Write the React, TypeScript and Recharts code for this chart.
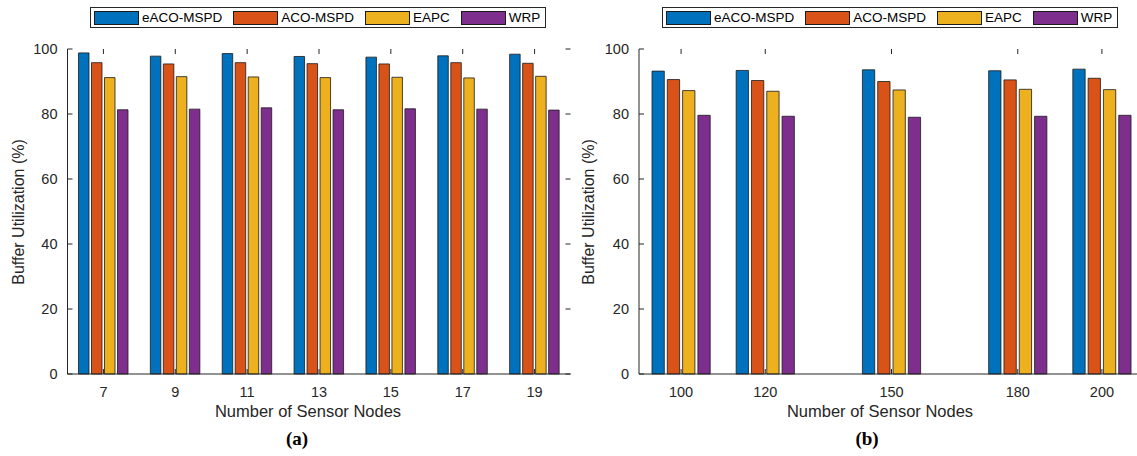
import React from 'react';
import { BarChart, Bar, XAxis, YAxis } from 'recharts';

const seriesNames = ['eACO-MSPD', 'ACO-MSPD', 'EAPC', 'WRP'];
const seriesKeys = ['eaco', 'aco', 'eapc', 'wrp'];
const colors = ['#0072BD', '#D95319', '#EDB120', '#7E2F8E'];

const nodesA = [7, 9, 11, 13, 15, 17, 19];
const eacoA = [98.8, 97.8, 98.6, 97.7, 97.5, 97.9, 98.4];
const acoA = [95.8, 95.4, 95.8, 95.5, 95.4, 95.8, 95.6];
const eapcA = [91.2, 91.5, 91.4, 91.2, 91.3, 91.1, 91.6];
const wrpA = [81.3, 81.5, 81.9, 81.3, 81.6, 81.5, 81.2];

const nodesB = [100, 120, 150, 180, 200];
const eacoB = [93.2, 93.4, 93.6, 93.3, 93.8];
const acoB = [90.6, 90.3, 90.0, 90.5, 91.0];
const eapcB = [87.2, 87.0, 87.4, 87.6, 87.5];
const wrpB = [79.6, 79.3, 79.0, 79.3, 79.6];

const yTicks = [0, 20, 40, 60, 80, 100];
const xTicksB = [100, 120, 150, 180, 200];

const dataA = nodesA.map((x, i) => ({ x, eaco: eacoA[i], aco: acoA[i], eapc: eapcA[i], wrp: wrpA[i] }));
const dataB = nodesB.map((x, i) => ({ x, eaco: eacoB[i], aco: acoB[i], eapc: eapcB[i], wrp: wrpB[i] }));

const FONT = '"Liberation Sans", Arial, Helvetica, sans-serif';
const AX = '#262626';
const PLOT_TOP = 49;
const PLOT_BOTTOM = 374;
const H = 456;

const makeXTick = () => (props: any) => {
  const { x, y, payload } = props;
  return (
    <g>
      <line x1={x} x2={x} y1={y} y2={y - 5} stroke={AX} strokeWidth={1} />
      <line x1={x} x2={x} y1={PLOT_TOP} y2={PLOT_TOP + 5} stroke={AX} strokeWidth={1} />
      <text x={x} y={y + 23} textAnchor="middle" fontSize={14.5} fontFamily={FONT} fill={AX}>
        {payload.value}
      </text>
    </g>
  );
};

const makeYTick = (plotRight: number) => (props: any) => {
  const { x, y, payload } = props;
  return (
    <g>
      <line x1={x} x2={x + 5} y1={y} y2={y} stroke={AX} strokeWidth={1} />
      <line x1={plotRight - 5} x2={plotRight} y1={y} y2={y} stroke={AX} strokeWidth={1} />
      <text x={x - 10} y={y} dy="0.35em" textAnchor="end" fontSize={14.5} fontFamily={FONT} fill={AX}>
        {payload.value}
      </text>
    </g>
  );
};

const LegendBox = ({ left }: { left: number }) => (
  <div
    style={{
      position: 'absolute',
      left,
      top: 7,
      height: 19,
      border: '1px solid #262626',
      background: '#fff',
      display: 'flex',
      alignItems: 'center',
      padding: '0 5px 0 3px',
      fontFamily: FONT,
      fontSize: 13.5,
      color: '#000',
      whiteSpace: 'nowrap',
    }}
  >
    {seriesNames.map((n, i) => (
      <div key={n} style={{ display: 'flex', alignItems: 'center', marginLeft: i === 0 ? 0 : 11 }}>
        <div
          style={{
            width: 43,
            height: 12,
            background: colors[i],
            border: '1px solid #1a1a1a',
            marginRight: 3,
          }}
        />
        <span>{n}</span>
      </div>
    ))}
  </div>
);

const Abs = ({ x, y, children, style }: any) => (
  <div
    style={{
      position: 'absolute',
      left: x,
      top: y,
      transform: 'translate(-50%, -50%)',
      whiteSpace: 'nowrap',
      lineHeight: 1,
      ...style,
    }}
  >
    {children}
  </div>
);

export default function App() {
  const leftW = 580;
  const leftPlotL = 67.5;
  const leftPlotR = 570.5;
  const rightW = 580;
  const rightX = 570;
  const rightPlotL = 639 - rightX;
  const rightPlotR = 1144 - rightX;

  return (
    <div style={{ position: 'absolute', left: 0, top: 0, width: 1137, height: H, overflow: 'hidden', background: '#fff' }}>
      <div style={{ position: 'absolute', left: 0, top: 0 }}>
        <BarChart
          width={leftW}
          height={H}
          data={dataA}
          margin={{ top: PLOT_TOP, right: leftW - leftPlotR, bottom: 0, left: 0 }}
          barSize={10.5}
          barGap={2.5}
        >
          <XAxis
            dataKey="x"
            type="category"
            tickSize={0}
            tickMargin={0}
            tick={makeXTick()}
            axisLine={{ stroke: AX }}
            height={H - PLOT_BOTTOM}
            interval={0}
          />
          <XAxis xAxisId="top" dataKey="x" orientation="top" tick={false} tickLine={false} axisLine={{ stroke: AX }} height={0} />
          <YAxis
            domain={[0, 100]}
            ticks={yTicks}
            width={leftPlotL}
            tickSize={0}
            tickMargin={0}
            tick={makeYTick(leftPlotR)}
            axisLine={{ stroke: AX }}
            interval={0}
          />
          <YAxis yAxisId="right" orientation="right" domain={[0, 100]} tick={false} tickLine={false} axisLine={{ stroke: AX }} width={0} />
          {seriesKeys.map((k, i) => (
            <Bar key={k} dataKey={k} fill={colors[i]} stroke="#1a1a1a" strokeWidth={0.8} isAnimationActive={false} />
          ))}
        </BarChart>
      </div>

      <div style={{ position: 'absolute', left: rightX, top: 0 }}>
        <BarChart
          width={rightW}
          height={H}
          data={dataB}
          margin={{ top: PLOT_TOP, right: rightW - rightPlotR, bottom: 0, left: 0 }}
          barSize={12.3}
          barGap={3}
        >
          <XAxis
            dataKey="x"
            type="number"
            domain={[90, 210]}
            ticks={xTicksB}
            allowDataOverflow
            tickSize={0}
            tickMargin={0}
            tick={makeXTick()}
            axisLine={{ stroke: AX }}
            height={H - PLOT_BOTTOM}
            interval={0}
          />
          <XAxis xAxisId="top" dataKey="x" type="number" domain={[90, 210]} orientation="top" tick={false} tickLine={false} axisLine={{ stroke: AX }} height={0} />
          <YAxis
            domain={[0, 100]}
            ticks={yTicks}
            width={rightPlotL}
            tickSize={0}
            tickMargin={0}
            tick={makeYTick(rightPlotR)}
            axisLine={{ stroke: AX }}
            interval={0}
          />
          {seriesKeys.map((k, i) => (
            <Bar key={k} dataKey={k} fill={colors[i]} stroke="#1a1a1a" strokeWidth={0.8} isAnimationActive={false} />
          ))}
        </BarChart>
      </div>

      <LegendBox left={90} />
      <LegendBox left={662} />

      <Abs x={19} y={211.5} style={{ transform: 'translate(-50%, -50%) rotate(-90deg)', fontFamily: FONT, fontSize: 16, color: AX }}>
        Buffer Utilization (%)
      </Abs>
      <Abs x={589} y={211.5} style={{ transform: 'translate(-50%, -50%) rotate(-90deg)', fontFamily: FONT, fontSize: 16, color: AX }}>
        Buffer Utilization (%)
      </Abs>
      <Abs x={308} y={411} style={{ fontFamily: FONT, fontSize: 16.5, color: AX }}>
        Number of Sensor Nodes
      </Abs>
      <Abs x={880} y={411} style={{ fontFamily: FONT, fontSize: 16.5, color: AX }}>
        Number of Sensor Nodes
      </Abs>
      <Abs x={297} y={438} style={{ fontFamily: '"Liberation Serif", "Times New Roman", serif', fontWeight: 'bold', fontSize: 19, color: '#000' }}>
        (a)
      </Abs>
      <Abs x={867} y={438} style={{ fontFamily: '"Liberation Serif", "Times New Roman", serif', fontWeight: 'bold', fontSize: 19, color: '#000' }}>
        (b)
      </Abs>
    </div>
  );
}
